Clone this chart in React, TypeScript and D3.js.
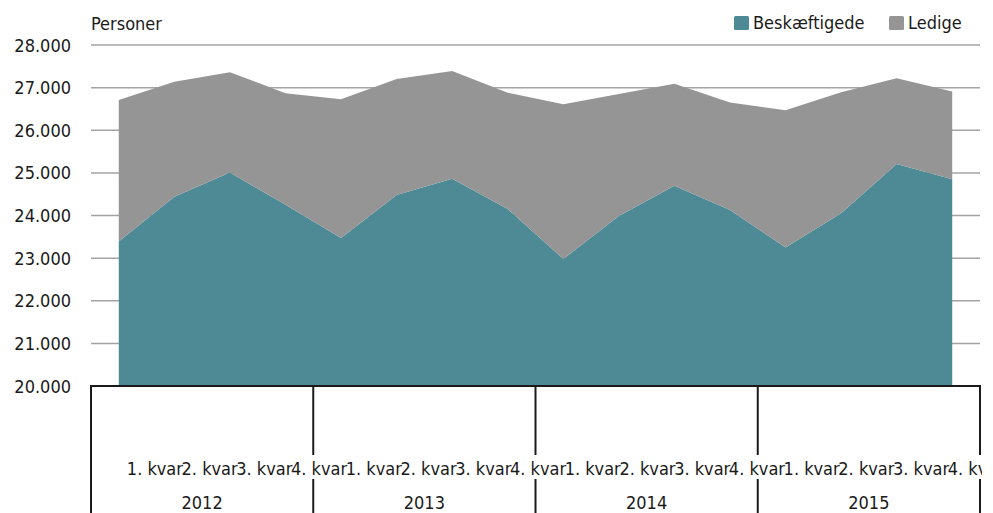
import React, { useRef, useEffect } from "react";
import * as d3 from "d3";

// Beskæftigede og ledige, kvartalsvis 2012-2015
const years = ["2012", "2013", "2014", "2015"];
const quarters = ["1. kvar", "2. kvar", "3. kvar", "4. kvar"];
const beskaeftigede = [
  23390, 24440, 25010, 24250, 23470, 24480, 24860, 24150,
  22980, 23990, 24700, 24130, 23250, 24050, 25210, 24850,
];
const ledige = [
  3320, 2700, 2350, 2620, 3260, 2720, 2530, 2730,
  3630, 2860, 2390, 2520, 3220, 2840, 2010, 2060,
];
const yTicks = [20000, 21000, 22000, 23000, 24000, 25000, 26000, 27000, 28000];
const seriesNames = ["Beskæftigede", "Ledige"];
const seriesColors = ["#4d8a96", "#959595"];

const FONT = "'DejaVu Sans Condensed', 'DejaVu Sans', sans-serif";

const App: React.FC = () => {
  const svgRef = useRef<SVGSVGElement | null>(null);

  useEffect(() => {
    document.body.style.margin = "0";
    const width = 993;
    const height = 513;
    const left = 91;
    const right = 980;
    const top = 45;
    const bottom = 386;

    const svg = d3.select(svgRef.current);
    svg.selectAll("*").remove();
    svg.style("font-family", FONT).style("font-stretch", "condensed");

    const cats = years.flatMap((y) => quarters.map((q) => `${y}-${q}`));
    const rows = cats.map((c, i) => ({ cat: c, Beskæftigede: beskaeftigede[i], Ledige: ledige[i] }));

    const x = d3.scaleBand<string>().domain(cats).range([left, right]);
    const xYear = d3.scaleBand<string>().domain(years).range([left, right]);
    const y = d3.scaleLinear().domain([20000, 28000]).range([bottom, top]);
    const cx = (c: string) => (x(c) as number) + x.bandwidth() / 2;

    const fmt = d3.formatLocale({ decimal: ",", thousands: ".", grouping: [3], currency: ["", " kr"] }).format(",d");

    // gridlines
    svg.append("g")
      .selectAll("line")
      .data(yTicks.slice(1))
      .join("line")
      .attr("x1", left)
      .attr("x2", right)
      .attr("y1", (d) => y(d))
      .attr("y2", (d) => y(d))
      .attr("stroke", "#a3a3a3")
      .attr("stroke-width", 1.5);

    // y labels
    svg.append("g")
      .selectAll("text")
      .data(yTicks)
      .join("text")
      .attr("x", 71)
      .attr("y", (d) => y(d) + 6.5)
      .attr("text-anchor", "end")
      .style("font-size", "18px")
      .attr("fill", "#1a1a1a")
      .text((d) => fmt(d));

    svg.append("text")
      .attr("x", left)
      .attr("y", 30)
      .style("font-size", "18px")
      .attr("fill", "#1a1a1a")
      .text("Personer");

    // stacked areas
    const stack = d3.stack<any>().keys(seriesNames);
    const layers = stack(rows);
    const area = d3.area<any>()
      .x((d) => cx(d.data.cat))
      .y0((d) => y(Math.max(d[0], 20000)))
      .y1((d) => y(d[1]));

    svg.append("g")
      .selectAll("path")
      .data(layers)
      .join("path")
      .attr("d", (d) => area(d as any) as string)
      .attr("fill", (_, i) => seriesColors[i]);

    // x axis: baseline + group separators
    const axis = svg.append("g").attr("stroke", "#1a1a1a").attr("stroke-width", 2);
    axis.append("line")
      .attr("x1", left).attr("x2", right)
      .attr("y1", bottom).attr("y2", bottom);
    const seps = years.map((yr) => xYear(yr) as number).concat([right]);
    axis.selectAll("line.sep")
      .data(seps)
      .join("line")
      .attr("class", "sep")
      .attr("x1", (d) => d).attr("x2", (d) => d)
      .attr("y1", bottom - 1).attr("y2", height);

    // quarter labels (they overflow their slots; the row is clipped at the chart edge)
    svg.append("clipPath").attr("id", "qclip")
      .append("rect")
      .attr("x", left + 2).attr("y", 440)
      .attr("width", right + 2 - left - 2).attr("height", 50);

    const labelStart = (x(cats[0]) as number) + x.bandwidth() * 0.645;
    const labelStep = x.bandwidth() * 0.985;
    const qg = svg.append("g").attr("clip-path", "url(#qclip)");
    qg.append("rect")
      .attr("x", left + 2).attr("y", 455)
      .attr("width", right + 2 - left - 2).attr("height", 24)
      .attr("fill", "#fff");
    qg.selectAll("text")
      .data(cats)
      .join("text")
      .attr("x", (_, i) => labelStart + i * labelStep)
      .attr("y", 475)
      .style("font-size", "18px")
      .attr("fill", "#1a1a1a")
      .text((d) => d.split("-")[1]);

    // year labels
    svg.append("g")
      .selectAll("text")
      .data(years)
      .join("text")
      .attr("x", (d) => (xYear(d) as number) + xYear.bandwidth() / 2)
      .attr("y", 509)
      .attr("text-anchor", "middle")
      .style("font-size", "18px")
      .attr("fill", "#1a1a1a")
      .text((d) => d);

    // legend
    const legendX = [734, 889];
    const legend = svg.append("g");
    seriesNames.forEach((name, i) => {
      const row = legend.append("g").attr("transform", `translate(${legendX[i]}, 16)`);
      row.append("rect")
        .attr("width", 15)
        .attr("height", 14)
        .attr("rx", 1.5)
        .attr("fill", seriesColors[i]);
      row.append("text")
        .attr("x", 19)
        .attr("y", 13)
        .style("font-size", "18px")
        .attr("fill", "#1a1a1a")
        .text(name);
    });

    svg.attr("width", width).attr("height", height);
  }, []);

  return <svg ref={svgRef} width={993} height={513} style={{ display: "block" }} />;
};

export default App;
